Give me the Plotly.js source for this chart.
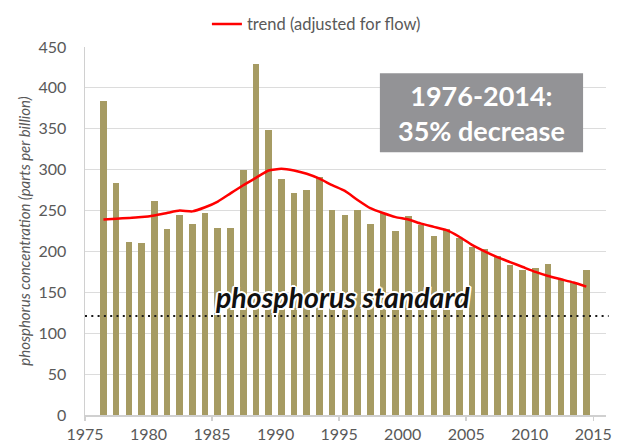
<!DOCTYPE html>
<html>
<head>
<meta charset="utf-8">
<script src="https://cdn.plot.ly/plotly-3.0.1.min.js"></script>
<style>
  html, body { margin: 0; padding: 0; background: #ffffff; }
  #chart { width: 634px; height: 445px; }
</style>
</head>
<body>
<div id="chart"></div>
<script>
// ---- data ----
const years = [1976, 1977, 1978, 1979, 1980, 1981, 1982, 1983, 1984, 1985,
               1986, 1987, 1988, 1989, 1990, 1991, 1992, 1993, 1994, 1995,
               1996, 1997, 1998, 1999, 2000, 2001, 2002, 2003, 2004, 2005,
               2006, 2007, 2008, 2009, 2010, 2011, 2012, 2013, 2014];
const concentration = [384, 284, 211, 210, 262, 228, 244, 233, 247, 229,
                       229, 299, 429, 349, 289, 272, 275, 291, 251, 244,
                       251, 234, 247, 225, 243, 232, 219, 227, 216, 206,
                       203, 195, 184, 177, 180, 185, 166, 163, 177];
const trend = [239, 240, 241, 242, 244, 247, 250, 249, 254, 261,
               271, 281, 290, 299, 301, 299, 295, 289, 281, 274,
               263, 253, 247, 242, 239, 234, 230, 226, 218, 208,
               200, 193, 187, 181, 175, 170, 166, 162, 157];
const standardValue = 121;
const trendName = 'trend (adjusted for flow)';
const standardLabel = 'phosphorus standard';
const boxLine1 = '1976-2014:';
const boxLine2 = '35% decrease';
const yTitle = 'phosphorus concentration (parts per billion)';
const xTickVals = [1975, 1980, 1985, 1990, 1995, 2000, 2005, 2010, 2015];
const xMajorTicks = [1975, 1985, 1995, 2005, 2015];
const yTickVals = [0, 50, 100, 150, 200, 250, 300, 350, 400, 450];

// bars sit at mid-year in the reference
const midYear = 0.45;
const xPos = years.map(y => y + midYear);

const FONT = 'Lato, "Open Sans", sans-serif';
const GRAY = '#595959';

const traces = [
  {
    type: 'bar',
    x: xPos,
    y: concentration,
    width: 0.52,
    marker: { color: '#a69b63' },
    showlegend: false,
    hoverinfo: 'x+y'
  },
  {
    type: 'scatter',
    mode: 'lines',
    x: xPos,
    y: trend,
    name: trendName,
    line: { color: '#ff0000', width: 2.5, shape: 'spline', smoothing: 0.5 },
    showlegend: true
  },
  {
    type: 'scatter',
    mode: 'lines',
    x: [],
    y: [],
    xaxis: 'x2',
    showlegend: false,
    hoverinfo: 'skip'
  }
];

const shadow = '2px 0 0 #fff, -2px 0 0 #fff, 0 2px 0 #fff, 0 -2px 0 #fff, 1.5px 1.5px 0 #fff, -1.5px -1.5px 0 #fff, 1.5px -1.5px 0 #fff, -1.5px 1.5px 0 #fff';

const layout = {
  width: 634,
  height: 445,
  margin: { l: 85, r: 28, t: 47, b: 30, pad: 0, autoexpand: false },
  paper_bgcolor: '#ffffff',
  plot_bgcolor: '#ffffff',
  font: { family: FONT, color: GRAY, size: 16 },
  bargap: 0,
  showlegend: true,
  legend: {
    orientation: 'h',
    x: 0.234, xanchor: 'left',
    y: 1.062, yanchor: 'middle',
    font: { family: FONT, size: 16.5, color: GRAY },
    bgcolor: 'rgba(0,0,0,0)'
  },
  xaxis: {
    range: [1975, 2016],
    tickvals: xTickVals,
    ticktext: xTickVals.map(String),
    ticks: '',
    ticklabelstandoff: 4,
    showgrid: false,
    showline: true,
    linecolor: '#d0d0d0',
    linewidth: 1.5,
    zeroline: false,
    automargin: false,
    tickfont: { family: FONT, size: 16, color: GRAY },
    fixedrange: true
  },
  xaxis2: {
    overlaying: 'x',
    anchor: 'y',
    side: 'bottom',
    range: [1975, 2016],
    tickvals: xMajorTicks,
    ticks: 'outside',
    ticklen: 5,
    tickwidth: 1.5,
    tickcolor: '#d0d0d0',
    showticklabels: false,
    showgrid: false,
    showline: false,
    zeroline: false,
    fixedrange: true
  },
  yaxis: {
    range: [0, 450],
    tickvals: yTickVals,
    ticks: '',
    ticklabelstandoff: 14,
    showgrid: true,
    gridcolor: '#dcdcdc',
    gridwidth: 1,
    showline: true,
    linecolor: '#d0d0d0',
    linewidth: 1.5,
    zeroline: false,
    automargin: false,
    tickfont: { family: FONT, size: 16, color: GRAY },
    title: {
      text: yTitle,
      font: { family: FONT, size: 15, color: GRAY, style: 'italic' },
      standoff: 4
    },
    fixedrange: true
  },
  shapes: [
    {
      type: 'line',
      xref: 'paper', yref: 'y',
      x0: 0, x1: 1.005,
      y0: standardValue, y1: standardValue,
      line: { color: '#1a1a1a', width: 2, dash: '2px,4.3px' },
      layer: 'above'
    },
    {
      type: 'rect',
      xref: 'paper', yref: 'paper',
      x0: 0.566, x1: 0.956,
      y0: 0.714, y1: 0.929,
      fillcolor: '#939396',
      line: { width: 0 },
      layer: 'above'
    }
  ],
  annotations: [
    {
      xref: 'paper', yref: 'paper',
      x: 0.494, y: 0.322,
      xanchor: 'center', yanchor: 'middle',
      text: '<b><i>' + standardLabel + '</i></b>',
      showarrow: false,
      font: { family: FONT, size: 28.5, color: '#111111', shadow: shadow }
    },
    {
      xref: 'paper', yref: 'paper',
      x: 0.761, y: 0.822,
      xanchor: 'center', yanchor: 'middle',
      text: '<b>' + boxLine1 + '</b><br><b>' + boxLine2 + '</b>',
      showarrow: false,
      font: { family: FONT, size: 27, color: '#ffffff' }
    }
  ]
};

Plotly.newPlot('chart', traces, layout, { displayModeBar: false, staticPlot: true });
</script>
</body>
</html>
